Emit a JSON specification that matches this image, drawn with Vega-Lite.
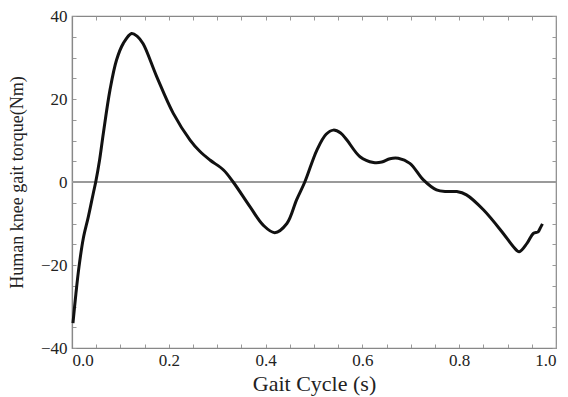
{
  "$schema": "https://vega.github.io/schema/vega-lite/v6.json",
  "width": 484,
  "height": 332,
  "autosize": {"type": "none"},
  "padding": {"left": 72, "top": 16, "right": 12, "bottom": 49},
  "background": "white",
  "config": {
    "view": {"stroke": "#888", "strokeWidth": 1.2},
    "font": "Liberation Serif",
    "style": {
      "guide-label": {"font": "Liberation Serif"},
      "guide-title": {"font": "Liberation Serif"}
    },
    "axis": {
      "labelFont": "Liberation Serif",
      "titleFont": "Liberation Serif",
      "labelFontSize": 17,
      "titleFontSize": 20,
      "labelColor": "#222",
      "titleColor": "#222",
      "titleFontWeight": "normal",
      "domainColor": "#888",
      "domainWidth": 1.2,
      "tickColor": "#999",
      "tickSize": -4,
      "grid": false
    }
  },
  "data": {"values": [
    {"t": 0.002, "torque": -34},
    {"t": 0.008, "torque": -27},
    {"t": 0.0145, "torque": -20.4},
    {"t": 0.0233, "torque": -13.6},
    {"t": 0.0337, "torque": -8.4},
    {"t": 0.044, "torque": -2.7},
    {"t": 0.049, "torque": 0},
    {"t": 0.057, "torque": 5.3},
    {"t": 0.0647, "torque": 11.7},
    {"t": 0.0785, "torque": 22.2},
    {"t": 0.092, "torque": 29.4},
    {"t": 0.106, "torque": 33.4},
    {"t": 0.123, "torque": 35.8},
    {"t": 0.135, "torque": 35.1},
    {"t": 0.147, "torque": 33.3},
    {"t": 0.175, "torque": 25.4},
    {"t": 0.209, "torque": 16.6},
    {"t": 0.244, "torque": 10.1},
    {"t": 0.264, "torque": 7.4},
    {"t": 0.285, "torque": 5.3},
    {"t": 0.313, "torque": 2.9},
    {"t": 0.333, "torque": 0},
    {"t": 0.368, "torque": -6},
    {"t": 0.395, "torque": -10.4},
    {"t": 0.419, "torque": -12.2},
    {"t": 0.444, "torque": -10},
    {"t": 0.464, "torque": -4.3},
    {"t": 0.481, "torque": 0},
    {"t": 0.506, "torque": 7.7},
    {"t": 0.525, "torque": 11.5},
    {"t": 0.540, "torque": 12.5},
    {"t": 0.555, "torque": 11.8},
    {"t": 0.568, "torque": 10.1},
    {"t": 0.595, "torque": 6.1},
    {"t": 0.623, "torque": 4.7},
    {"t": 0.640, "torque": 4.8},
    {"t": 0.657, "torque": 5.6},
    {"t": 0.674, "torque": 5.7},
    {"t": 0.698, "torque": 4.5},
    {"t": 0.726, "torque": 0.5},
    {"t": 0.753, "torque": -1.9},
    {"t": 0.775, "torque": -2.3},
    {"t": 0.795, "torque": -2.3},
    {"t": 0.815, "torque": -3.1},
    {"t": 0.850, "torque": -6.7},
    {"t": 0.891, "torque": -12.4},
    {"t": 0.912, "torque": -15.6},
    {"t": 0.924, "torque": -16.8},
    {"t": 0.940, "torque": -14.8},
    {"t": 0.953, "torque": -12.4},
    {"t": 0.963, "torque": -12},
    {"t": 0.967, "torque": -11.2},
    {"t": 0.972, "torque": -10.1}
  ]},
  "layer": [
    {
      "mark": {"type": "line", "strokeOpacity": 0},
      "encoding": {
        "x": {"field": "t", "type": "quantitative", "scale": {"domain": [0, 1], "nice": false},
          "axis": {"orient": "top", "values": [0,0.05,0.1,0.15,0.2,0.25,0.3,0.35,0.4,0.45,0.5,0.55,0.6,0.65,0.7,0.75,0.8,0.85,0.9,0.95,1], "labels": false, "title": null, "domain": false}},
        "y": {"field": "torque", "type": "quantitative", "scale": {"domain": [-40, 40], "nice": false},
          "axis": {"orient": "right", "values": [-40,-35,-30,-25,-20,-15,-10,-5,0,5,10,15,20,25,30,35,40], "labels": false, "title": null, "domain": false}}
      }
    },
    {
      "mark": {"type": "rule", "color": "#999", "strokeWidth": 1.2},
      "encoding": {"y": {"datum": 0, "type": "quantitative", "axis": null}}
    },
    {
      "mark": {"type": "line", "color": "#111", "strokeWidth": 3, "interpolate": "catmull-rom"},
      "encoding": {
        "x": {"field": "t", "type": "quantitative", "title": "Gait Cycle (s)",
          "axis": {"orient": "bottom", "labelFont": "Liberation Serif", "titleFont": "Liberation Serif", "titleFontSize": 22, "values": [0,0.05,0.1,0.15,0.2,0.25,0.3,0.35,0.4,0.45,0.5,0.55,0.6,0.65,0.7,0.75,0.8,0.85,0.9,0.95,1], "format": ".1f", "labelExpr": "abs(round(datum.value*20) % 4) == 0 ? datum.label : ''", "labelPadding": 8, "titlePadding": 5}},
        "y": {"field": "torque", "type": "quantitative", "title": "Human knee gait torque(Nm)",
          "axis": {"orient": "left", "labelFont": "Liberation Serif", "titleFont": "Liberation Serif", "values": [-40,-35,-30,-25,-20,-15,-10,-5,0,5,10,15,20,25,30,35,40], "format": "d", "labelExpr": "abs(round(datum.value)) % 20 == 0 ? datum.label : ''", "labelPadding": 9, "titleFontSize": 18, "titlePadding": 14}}
      }
    }
  ],
  "resolve": {"axis": {"x": "independent", "y": "independent"}}
}
